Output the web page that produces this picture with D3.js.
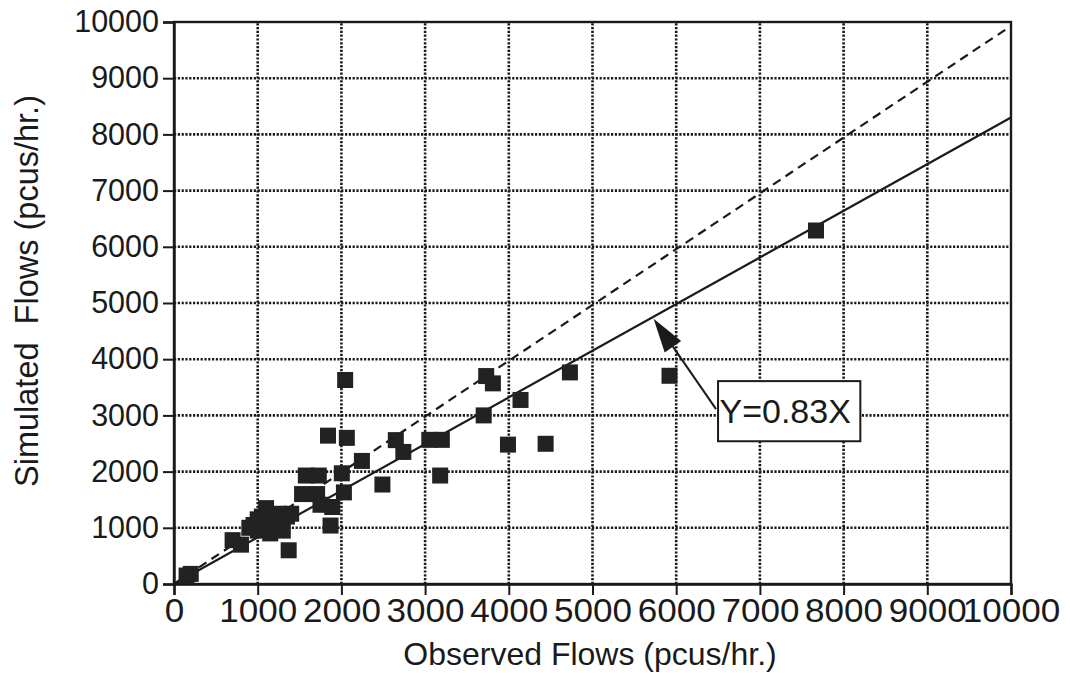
<!DOCTYPE html>
<html><head><meta charset="utf-8">
<script src="https://cdn.jsdelivr.net/npm/d3@7"></script>
<style>html,body{margin:0;padding:0;background:#fff;}svg{display:block;}</style>
</head><body>
<script>
const xTicks = [0,1000,2000,3000,4000,5000,6000,7000,8000,9000,10000];
const yTicks = [0,1000,2000,3000,4000,5000,6000,7000,8000,9000,10000];
const observed = [150,200,700,800,900,950,1000,1050,1100,1100,1150,1200,1200,1250,1300,1350,1400,1370,
  1050,1150,1000,1250,
  1530,1710,1750,1890,1575,1730,2030,2005,1870,1840,2065,2045,2245,2650,2740,3050,3200,3180,2490,
  3730,3810,4730,4140,3700,3990,4440,5920,7670];
const simulated = [150,180,780,700,1000,1050,950,1100,1350,1000,900,1200,1050,1100,950,1200,1250,600,
  1200,1150,1150,1250,
  1600,1600,1410,1370,1930,1930,1630,1970,1040,2640,2600,3630,2190,2560,2350,2565,2565,1930,1770,
  3700,3570,3765,3275,3000,2480,2495,3705,6290];
const fitSlope = 0.83;
const fitLabel = "Y=0.83X";
const xTitle = "Observed Flows (pcus/hr.)";
const yTitle = "Simulated  Flows (pcus/hr.)";

const W = 1070, H = 673;
const FONT = "'Liberation Sans', Arial, sans-serif";
const svg = d3.select("body").append("svg").attr("width", W).attr("height", H)
  .style("font-family", FONT);
const x = d3.scaleLinear().domain([0,10000]).range([174,1011]);
const y = d3.scaleLinear().domain([0,10000]).range([584,22]);
const ink = "#1a1a1a";

// grid
svg.append("g").selectAll("line.v").data(xTicks.slice(1,-1)).join("line")
  .attr("x1", d=>x(d)).attr("x2", d=>x(d)).attr("y1", y(0)).attr("y2", y(10000))
  .attr("stroke", ink).attr("stroke-width", 2.6).attr("stroke-dasharray", "2.2 1.6");
svg.append("g").selectAll("line.h").data(yTicks.slice(1,-1)).join("line")
  .attr("x1", x(0)).attr("x2", x(10000)).attr("y1", d=>y(d)).attr("y2", d=>y(d))
  .attr("stroke", ink).attr("stroke-width", 2.6).attr("stroke-dasharray", "2.2 1.6");

// frame
svg.append("rect").attr("x", x(0)).attr("y", y(10000)).attr("width", x(10000)-x(0)).attr("height", y(0)-y(10000))
  .attr("fill", "none").attr("stroke", ink).attr("stroke-width", 2.4);

// axes
const xAxis = svg.append("g").attr("transform", `translate(0,${y(0)})`)
  .call(d3.axisBottom(x).tickValues(xTicks).tickSize(11).tickPadding(4).tickFormat(d3.format("d")));
xAxis.select(".domain").attr("stroke", ink).attr("stroke-width", 2.4);
xAxis.selectAll(".tick line").attr("stroke", ink).attr("stroke-width", 2);
xAxis.selectAll(".tick text").attr("fill", ink).attr("font-size", 33).attr("font-family", FONT)
  .attr("textLength", d => String(d).length*19.5).attr("lengthAdjust", "spacingAndGlyphs");

const yAxis = svg.append("g").attr("transform", `translate(${x(0)},0)`)
  .call(d3.axisLeft(y).tickValues(yTicks).tickSize(11).tickPadding(4).tickFormat(d3.format("d")));
yAxis.select(".domain").attr("stroke", ink).attr("stroke-width", 2.4);
yAxis.selectAll(".tick line").attr("stroke", ink).attr("stroke-width", 2);
yAxis.selectAll(".tick text").attr("fill", ink).attr("font-size", 30.5).attr("font-family", FONT);

// reference lines
svg.append("line").attr("x1", x(0)).attr("y1", y(0)).attr("x2", x(10000)).attr("y2", y(9930))
  .attr("stroke", ink).attr("stroke-width", 2.2).attr("stroke-dasharray", "9 6");
svg.append("line").attr("x1", x(0)).attr("y1", y(0)).attr("x2", x(10000)).attr("y2", y(10000*fitSlope))
  .attr("stroke", ink).attr("stroke-width", 2.2);

// points
const s = 16;
svg.append("g").selectAll("rect").data(observed.map((o,i)=>[o, simulated[i]])).join("rect")
  .attr("x", d=>x(d[0])-s/2).attr("y", d=>y(d[1])-s/2).attr("width", s).attr("height", s)
  .attr("fill", "#222");

// annotation
const tipX = 5730, tipY = 5730*fitSlope;
const bx0 = x(6500), by0 = y(3610), bx1 = x(8200), by1 = y(2540);
svg.append("rect").attr("x", bx0).attr("y", by0).attr("width", bx1-bx0).attr("height", by1-by0)
  .attr("fill", "#fff").attr("stroke", ink).attr("stroke-width", 2);
svg.append("text").attr("x", (bx0+bx1)/2 - 4).attr("y", (by0+by1)/2 + 12).attr("text-anchor", "middle")
  .attr("font-size", 34).attr("fill", ink).text(fitLabel);
const ax0 = bx0 - 2, ay0 = by0 + 28, ax1 = x(tipX), ay1 = y(tipY) + 2;
const ang = Math.atan2(ay1-ay0, ax1-ax0);
const L = 34, hw = 10;
const bxp = ax1 - L*Math.cos(ang), byp = ay1 - L*Math.sin(ang);
svg.append("line").attr("x1", ax0).attr("y1", ay0).attr("x2", bxp).attr("y2", byp).attr("stroke", ink).attr("stroke-width", 2);
svg.append("path").attr("d", `M${ax1},${ay1} L${bxp + hw*Math.sin(ang)},${byp - hw*Math.cos(ang)} L${bxp - hw*Math.sin(ang)},${byp + hw*Math.cos(ang)} Z`)
  .attr("fill", ink);

// titles
svg.append("text").attr("x", 590).attr("y", 665).attr("text-anchor", "middle").attr("font-size", 32).attr("fill", ink).text(xTitle);
svg.append("text").attr("transform", `translate(38,291) rotate(-90)`).attr("text-anchor", "middle")
  .attr("font-size", 32.5).attr("fill", ink).attr("xml:space", "preserve").style("white-space", "pre").text(yTitle);
</script>
</body></html>
